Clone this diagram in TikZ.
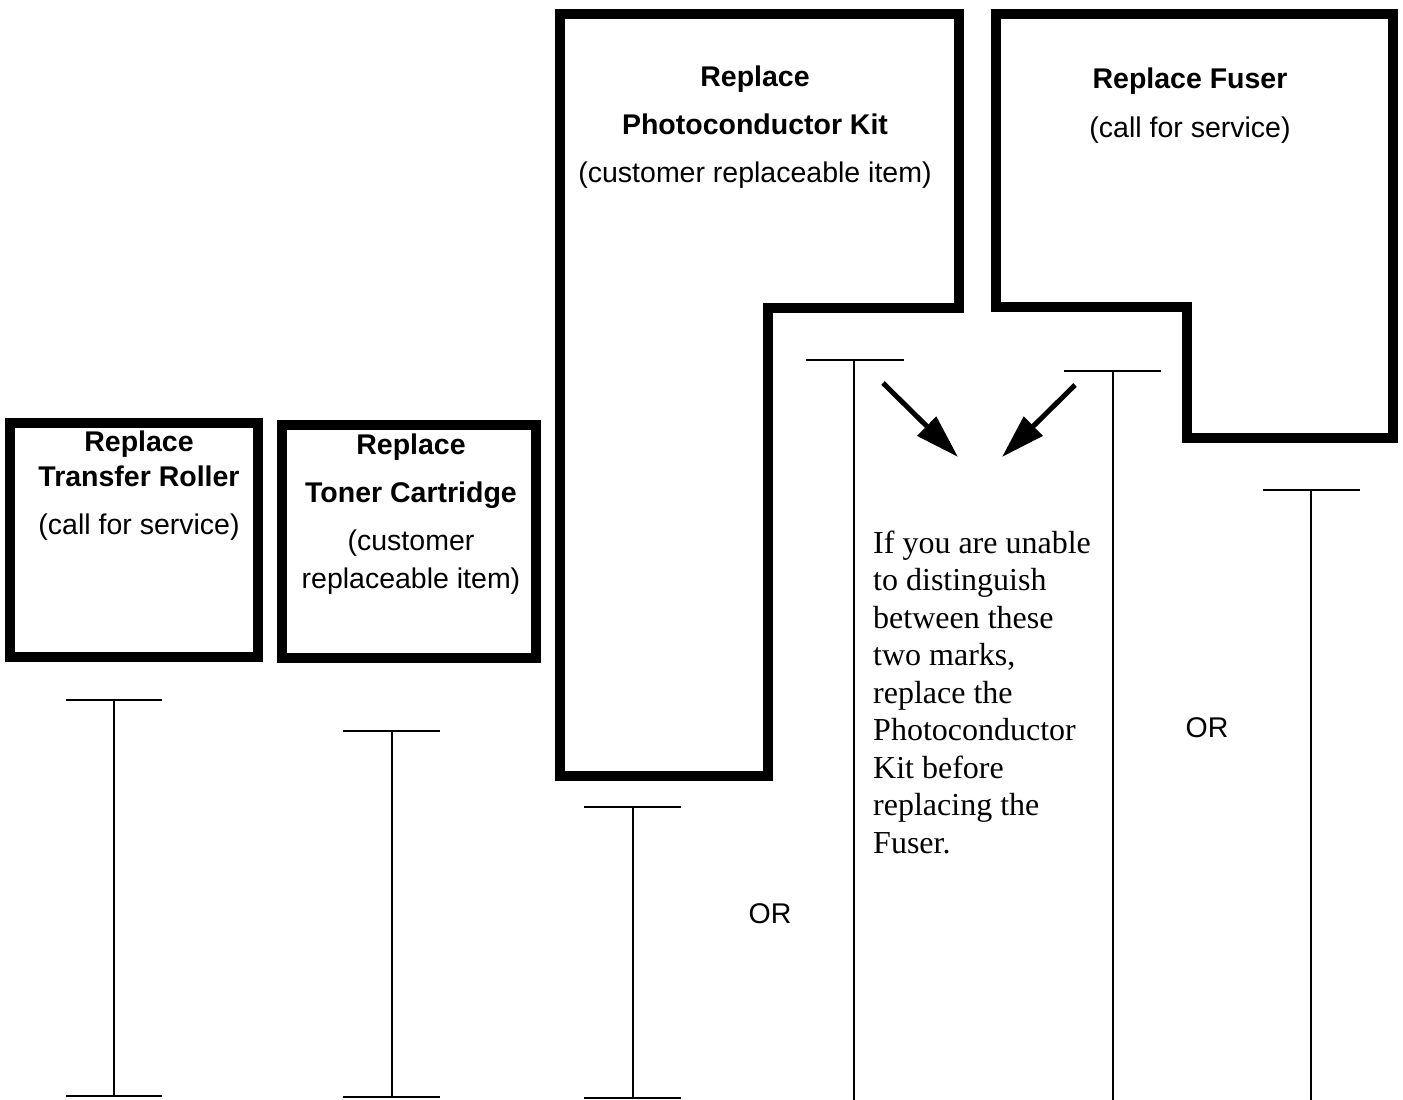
\documentclass[tikz,border=0pt]{standalone}
\usepackage{fontspec}
\setmainfont{Liberation Serif}
\setsansfont{Liberation Sans}
\usetikzlibrary{arrows.meta}
\begin{document}
\begin{tikzpicture}[x=1pt,y=-1pt,
  frame/.style={line width=9.5pt, line join=miter},
  bar/.style={line width=2.2pt},
  pointer/.style={line width=5pt, -{Triangle[length=44pt,width=26pt]}},
  lbl/.style={font=\fontsize{28.5}{34}\selectfont\sffamily, anchor=base, inner sep=0pt},
  blbl/.style={font=\fontsize{28.5}{34}\selectfont\sffamily\bfseries, anchor=base, inner sep=0pt},
  note/.style={font=\fontsize{32}{37.5}\selectfont\rmfamily, anchor=base west, inner sep=0pt}]
\useasboundingbox (0,0) rectangle (1403,1100);

% frames
\draw[frame] (10,423) rectangle (258,657);
\draw[frame] (282,425) rectangle (536,658);
\draw[frame] (560,14) -- (959,14) -- (959,308) -- (768,308) -- (768,776) -- (560,776) -- cycle;
\draw[frame] (996,14) -- (1393,14) -- (1393,438) -- (1187,438) -- (1187,307) -- (996,307) -- cycle;

% box texts
\node[blbl] (tr1) at (139,451) {Replace};
\node[blbl] (tr2) at (139,486) {Transfer Roller};
\node[lbl]  (tr3) at (139,534) {(call for service)};

\node[blbl] (tc1) at (411,454) {Replace};
\node[blbl] (tc2) at (411,502) {Toner Cartridge};
\node[lbl]  (tc3) at (411,550) {(customer};
\node[lbl]  (tc4) at (411,588) {replaceable item)};

\node[blbl] (pc1) at (755,86) {Replace};
\node[blbl] (pc2) at (755,134) {Photoconductor Kit};
\node[lbl]  (pc3) at (755,182) {(customer replaceable item)};

\node[blbl] (fu1) at (1190,88) {Replace Fuser};
\node[lbl]  (fu2) at (1190,137) {(call for service)};

\node[lbl] (or1) at (770,923) {OR};
\node[lbl] (or2) at (1207,737) {OR};

% note
\foreach \t [count=\i] in {If you are unable, to distinguish, between these, {two marks,}, replace the, Photoconductor, Kit before, replacing the, Fuser.}
  \node[note] (note\i) at (873,{553+37.5*(\i-1)}) {\t};

% bars
\draw[bar] (66,700) -- (162,700) (114,700) -- (114,1096) (66,1096) -- (162,1096);
\draw[bar] (343,731) -- (440,731) (392,731) -- (392,1097) (343,1097) -- (440,1097);
\draw[bar] (584,807) -- (681,807) (633,807) -- (633,1098) (584,1098) -- (681,1098);
\draw[bar] (806,360) -- (904,360) (854,360) -- (854,1100);
\draw[bar] (1064,371) -- (1161,371) (1113,371) -- (1113,1100);
\draw[bar] (1263,490) -- (1360,490) (1311,490) -- (1311,1100);

% arrows
\coordinate (a1s) at (883,383);
\coordinate (a1e) at (958,457);
\coordinate (a2s) at (1075,385);
\coordinate (a2e) at (1002,457);
\draw[pointer] (a1s) -- (a1e);
\draw[pointer] (a2s) -- (a2e);
\end{tikzpicture}
\end{document}
